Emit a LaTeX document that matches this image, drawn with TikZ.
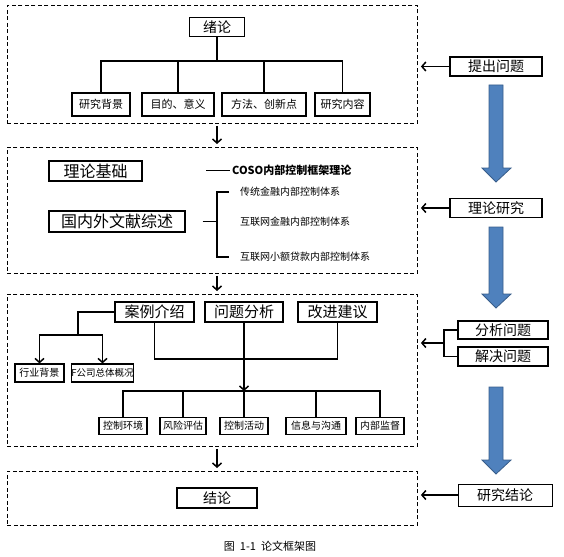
\documentclass[tikz,border=0pt]{standalone}
\usepackage{fontspec}
\setmainfont{Noto Sans CJK SC}
\usetikzlibrary{arrows.meta}
\definecolor{arrowblue}{RGB}{79,129,189}
\definecolor{arrowedge}{RGB}{56,93,138}
\tikzset{
	part/.style={draw, line width=0.9pt, dash pattern=on 4pt off 2.5pt, minimum width=410pt, anchor=north west, inner sep=0pt},
	bigbox/.style={draw, line width=1.2pt, inner sep=0pt, minimum height=19pt, font=\fontsize{14pt}{16pt}\selectfont},
	midbox/.style={draw, line width=1.2pt, inner sep=0pt, minimum height=20pt, font=\fontsize{15pt}{17pt}\selectfont},
	smallbox/.style={draw, line width=1.2pt, inner sep=0pt, minimum height=23pt, font=\fontsize{11pt}{13pt}\selectfont},
	tinybox/.style={draw, line width=1.2pt, inner sep=0pt, minimum height=17pt, font=\fontsize{10pt}{12pt}\selectfont},
	sidebox/.style={draw, line width=1.1pt, inner sep=0pt, minimum width=92pt, minimum height=19pt, font=\fontsize{14pt}{16pt}\selectfont},
	note/.style={inner sep=0pt, anchor=west, font=\fontsize{10pt}{12pt}\selectfont},
	conn/.style={line width=1.3pt},
	arr/.style={line width=1.5pt, -{Straight Barb[length=4pt,width=9pt]}},
	flow/.style={arr, shorten <=2pt, shorten >=3pt},
	bluearr/.style={fill=arrowblue, draw=arrowedge, line width=0.8pt, line join=miter}
}
\begin{document}
\begin{tikzpicture}[x=1pt,y=-1pt]
	\useasboundingbox (0,0) rectangle (564,556);
	% the four parts
	\node[part, minimum height=118pt] (p1) at (7,5) {};
	\node[part, minimum height=126pt] (p2) at (7,147) {};
	\node[part, minimum height=152pt] (p3) at (7,294) {};
	\node[part, minimum height=54pt] (p4) at (7,471) {};
	
	% part 1
	\node[bigbox, minimum width=55pt] (xulun) at (217,27) {绪论};
	\node[smallbox, minimum width=58pt] (beijing) at (101,104.5) {研究背景};
	\node[smallbox, minimum width=72pt] (yiyi) at (178,104.5) {目的、意义};
	\node[smallbox, minimum width=84pt] (fangfa) at (264,104.5) {方法、创新点};
	\node[smallbox, minimum width=55pt] (neirong) at (342.5,104.5) {研究内容};
	\coordinate (bar1) at (217,61);
	\draw[conn] (xulun.south) -- (bar1);
	\draw[conn] (beijing.north) |- (bar1) -| (neirong.north);
	\draw[conn] (yiyi.north) -- (yiyi.north |- bar1);
	\draw[conn] (fangfa.north) -- (fangfa.north |- bar1);
	
	% part 2
	\node[bigbox, minimum width=93pt, minimum height=20pt, font=\fontsize{16pt}{18pt}\selectfont] (jichu) at (95.5,171) {理论基础};
	\node[bigbox, minimum width=136pt, minimum height=21pt, font=\fontsize{16pt}{18pt}\selectfont] (zongshu) at (117,221.5) {国内外文献综述};
	\node[note, font=\fontsize{11pt}{13pt}\selectfont\bfseries] (coso) at (232,170) {COSO内部控制框架理论};
	\coordinate (cosoend) at (206,170);
	\draw[line width=1pt] (cosoend) -- ([xshift=-2pt]coso.west);
	\node[note] (chuantong) at (240,192) {传统金融内部控制体系};
	\node[note] (hulian) at (240,222) {互联网金融内部控制体系};
	\node[note] (xiaoe) at (240,257) {互联网小额贷款内部控制体系};
	\coordinate (brk) at (217,221.5);
	\draw[conn] ([xshift=-11pt]chuantong.west) -| (brk) |- ([xshift=-11pt]xiaoe.west);
	\draw[conn] ([xshift=17pt]zongshu.east) -- (brk);
	
	% part 3
	\node[midbox, minimum width=79pt] (anli) at (154.5,312) {案例介绍};
	\node[midbox, minimum width=78pt] (fenxi) at (244,312) {问题分析};
	\node[midbox, minimum width=79pt] (jianyi) at (337.5,312) {改进建议};
	\node[tinybox, minimum width=49pt, minimum height=18pt] (hangye) at (39.5,373) {行业背景};
	\node[tinybox, minimum width=59pt, minimum height=18pt, font=\fontsize{9.5pt}{11pt}\selectfont] (gaikuang) at (102.5,373) {F公司总体概况};
	\coordinate (fork) at (78,335);
	\draw[conn] (anli.west) -| (fork);
	\draw[arr] (fork) -| (hangye.north);
	\draw[arr] (fork) -| (gaikuang.north);
	\coordinate (join) at (244,359);
	\draw[conn] (anli.south) |- (join) -| (jianyi.south);
	\coordinate (hub) at (244,391);
	\draw[arr] (fenxi.south) -- (hub);
	\foreach \name/\x/\w/\txt in {huanjing/123/48/控制环境, fengxian/183/46/风险评估, huodong/244/48/控制活动, xinxi/316/60/信息与沟通, jiandu/380/48/内部监督}
		\node[tinybox, minimum width=\w pt] (\name) at (\x,426) {\txt};
	\draw[conn] (huanjing.north) |- (hub) -| (jiandu.north);
	\foreach \name in {fengxian, huodong, xinxi}
		\draw[conn] (\name.north) -- (\name.north |- hub);
	
	% part 4
	\node[bigbox, minimum width=80pt, minimum height=20pt] (jielun) at (217,498) {结论};
	
	% between the parts
	\draw[flow] (p1.south -| xulun) -- (p2.north -| xulun);
	\draw[flow] (p2.south -| xulun) -- (p3.north -| xulun);
	\draw[flow] (p3.south -| xulun) -- (p4.north -| xulun);
	
	% steps on the right
	\node[sidebox] (tichu) at (496,66.5) {提出问题};
	\node[sidebox] (lilun) at (496,208) {理论研究};
	\node[sidebox, minimum width=90pt, minimum height=18pt] (fxwt) at (503,330) {分析问题};
	\node[sidebox, minimum width=90pt, minimum height=19pt] (jjwt) at (503,356.5) {解决问题};
	\node[sidebox, minimum width=94pt, minimum height=22pt, line width=0.8pt] (yjjl) at (505,495) {研究结论};
	\draw[arr, shorten >=3pt] (tichu.west) -- (tichu.west -| p1.east);
	\draw[arr, shorten >=3pt] (lilun.west) -- (lilun.west -| p2.east);
	\coordinate (fj) at (444,343);
	\draw[conn] (fxwt.west) -| (fj) |- (jjwt.west);
	\draw[arr, shorten >=3pt] (fj) -- (fj -| p3.east);
	\draw[arr, shorten >=3pt] (yjjl.west) -- (yjjl.west -| p4.east);
	\foreach \ya/\yb in {85/182, 227/308, 387/474}
		\draw[bluearr] (489,\ya) -- (503,\ya) -- (503,\yb-14) -- (511,\yb-14) -- (496,\yb) -- (482,\yb-14) -- (489,\yb-14) -- cycle;
	
	\node[font=\fontsize{11pt}{13pt}\selectfont] (caption) at (270,546) {图\hspace{5pt}1-1\hspace{5pt}论文框架图};
\end{tikzpicture}
\end{document}
